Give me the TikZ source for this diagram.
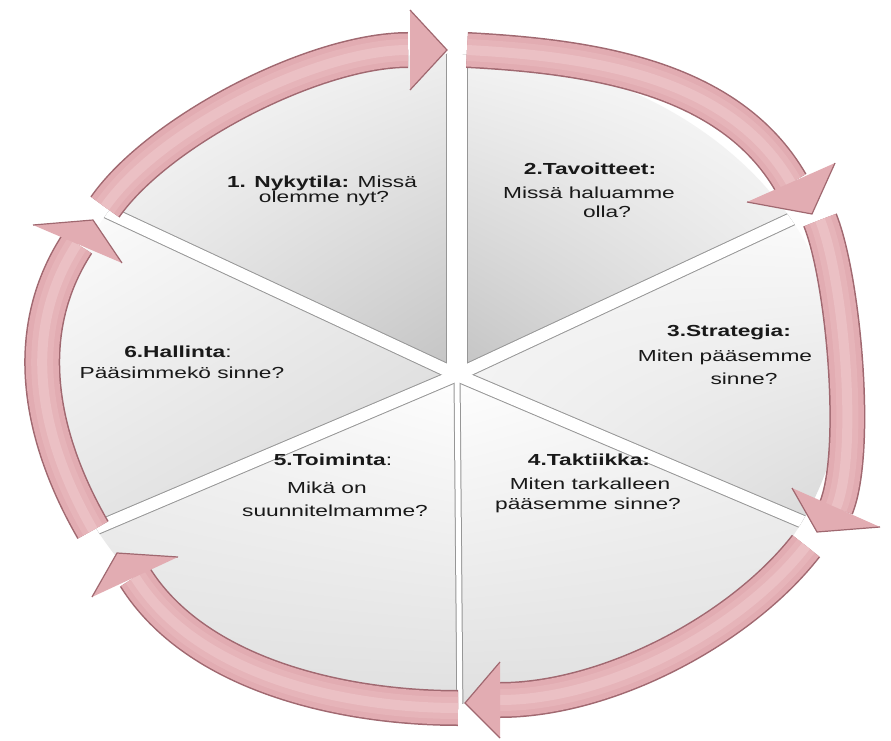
\documentclass[tikz,border=0pt]{standalone}
\usepackage{fontspec}
\setmainfont{Liberation Sans}
\usepackage{graphicx}
\usetikzlibrary{calc,shadings}
\definecolor{arrowfill}{RGB}{226,172,178}
\definecolor{arrowedge}{RGB}{160,104,112}
\definecolor{arrowmid}{RGB}{230,180,185}
\definecolor{arrowhi}{RGB}{235,192,196}
\definecolor{wedgeedge}{RGB}{150,150,150}
\definecolor{txt}{RGB}{25,25,25}
\newcommand\wide[1]{\scalebox{1.42}[1]{#1}}
\newcommand\cycarrow[8]{%
  \draw[arrowedge,line width=36pt] #1 to[out=#2,in=#4,looseness=#8] #3;
  \draw[arrowfill,line width=33pt] #1 to[out=#2,in=#4,looseness=#8] #3;
  \draw[arrowmid,line width=22pt] #1 to[out=#2,in=#4,looseness=#8] #3;
  \draw[arrowhi,line width=10pt] #1 to[out=#2,in=#4,looseness=#8] #3;
  \fill[arrowfill] #5 -- #7 -- #6 -- cycle;
  \draw[arrowedge,line width=1.2pt,line join=miter] #5 -- #7 -- #6;
}
\tikzset{
  lbl/.style={font=\fontsize{16}{19}\selectfont, anchor=base, inner sep=0pt, text=txt},
}
\begin{document}
\begin{tikzpicture}[x=1pt,y=1pt]
\useasboundingbox (0,0) rectangle (891,740);
\fill[white] (0,0) rectangle (891,740);
\coordinate (S) at (457,365);
\coordinate (E) at (447,361);

% wedges
\begin{scope}
  \clip (E) ellipse [x radius=395, y radius=325];
  \begin{scope}
    \clip (S) -- ($(S)+(90:700)$) -- ($(S)+(155:700)$) -- cycle;
    \shade[upper left=white, upper right=gray!12, lower left=gray!18, lower right=gray!48] (40,360) rectangle (460,700);
  \end{scope}
  \begin{scope}
    \clip (S) -- ($(S)+(25:700)$) -- ($(S)+(90:700)$) -- cycle;
    \shade[upper left=gray!8, upper right=white, lower left=gray!48, lower right=gray!15] (455,360) rectangle (860,700);
  \end{scope}
  \begin{scope}
    \clip (S) -- ($(S)+(-23:700)$) -- ($(S)+(25:700)$) -- cycle;
    \shade[upper left=gray!8, upper right=white, lower left=gray!10, lower right=gray!35] (455,180) rectangle (860,550);
  \end{scope}
  \begin{scope}
    \clip (S) -- ($(S)+(-89.5:700)$) -- ($(S)+(-23:700)$) -- cycle;
    \shade[upper left=white, upper right=gray!10, lower left=gray!25, lower right=gray!25] (455,30) rectangle (860,370);
  \end{scope}
  \begin{scope}
    \clip (S) -- ($(S)+(-157:700)$) -- ($(S)+(-89.5:700)$) -- cycle;
    \shade[upper left=gray!10, upper right=white, lower left=gray!25, lower right=gray!25] (40,30) rectangle (460,370);
  \end{scope}
  \begin{scope}
    \clip (S) -- ($(S)+(155:700)$) -- ($(S)+(203:700)$) -- cycle;
    \shade[upper left=white, upper right=gray!15, lower left=gray!22, lower right=gray!35] (40,180) rectangle (460,550);
  \end{scope}
  % gaps
  \foreach \a/\w/\ww in {90/20/22,25/12/14,-23/12/14,-89.5/5/7,-157/12/14,155/12/14}
    \draw[wedgeedge,line width=\ww pt] (S) -- ++(\a:700);
  \foreach \a/\w/\ww in {90/20/22,25/12/14,-23/12/14,-89.5/5/7,-157/12/14,155/12/14}
    \draw[white,line width=\w pt] (S) -- ++(\a:700);
\end{scope}

% arrows
\cycarrow{(105,533)}{55}{(408,690)}{180}{(410,730)}{(410,650)}{(447,690)}{0.7}
\cycarrow{(467,690)}{-3}{(791,557)}{120}{(835,577)}{(747,538)}{(812,526)}{0.9}
\cycarrow{(820,520)}{-68}{(836,232)}{68}{(880,213)}{(792,252)}{(817,208)}{0.55}
\cycarrow{(806,194)}{-128}{(500,40)}{0}{(500,78)}{(500,2)}{(465,37)}{0.8}
\cycarrow{(458,32)}{180}{(135,163)}{-58}{(92,143)}{(178,183)}{(117,187)}{0.85}
\cycarrow{(93,210)}{120}{(77,496)}{-123}{(33,515)}{(122,477)}{(93,520)}{0.95}

% labels
\node[lbl] (t1a) at (322,552) {\wide{\textbf{1. Nykytila:} Missä}};
\node[lbl] (t1b) at (324,537) {\wide{olemme nyt?}};
\node[lbl] (t2a) at (590,565) {\wide{\textbf{2.Tavoitteet:}}};
\node[lbl] (t2b) at (589,541) {\wide{Missä haluamme}};
\node[lbl] (t2c) at (607,522) {\wide{olla?}};
\node[lbl] (t3a) at (729,403) {\wide{\textbf{3.Strategia:}}};
\node[lbl] (t3b) at (725,379) {\wide{Miten pääsemme}};
\node[lbl] (t3c) at (744,356) {\wide{sinne?}};
\node[lbl] (t4a) at (589,275) {\wide{\textbf{4.Taktiikka:}}};
\node[lbl] (t4b) at (590,251) {\wide{Miten tarkalleen}};
\node[lbl] (t4c) at (588,231) {\wide{pääsemme sinne?}};
\node[lbl] (t5a) at (333,275) {\wide{\textbf{5.Toiminta}:}};
\node[lbl] (t5b) at (327,247) {\wide{Mikä on}};
\node[lbl] (t5c) at (335,224) {\wide{suunnitelmamme?}};
\node[lbl] (t6a) at (178,383) {\wide{\textbf{6.Hallinta}:}};
\node[lbl] (t6b) at (182,362) {\wide{Pääsimmekö sinne?}};
\end{tikzpicture}
\end{document}
